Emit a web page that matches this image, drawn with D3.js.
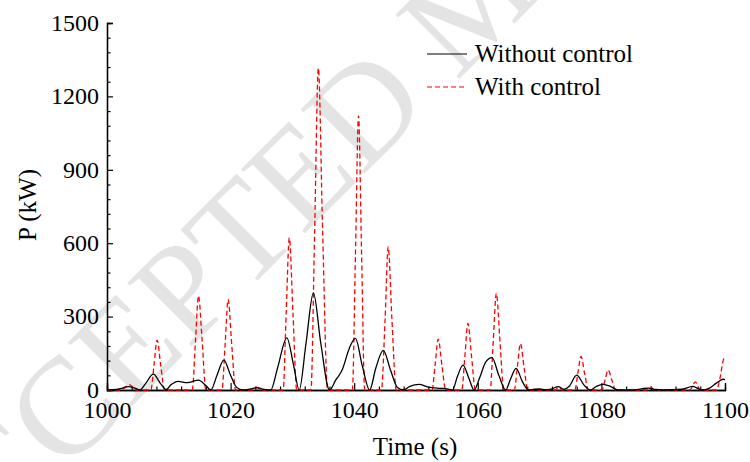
<!DOCTYPE html>
<html>
<head>
<meta charset="utf-8">
<script src="https://cdn.jsdelivr.net/npm/d3@7/dist/d3.min.js"></script>
<style>
  html, body { margin: 0; padding: 0; background: #fff; }
  svg { display: block; }
  svg text { font-family: "Liberation Serif", "Times New Roman", Times, serif !important; fill: #000; }
</style>
</head>
<body>
<svg id="chart" width="750" height="462"></svg>
<script>
// Time (s) and power (kW) samples for each run
const timeWithout = [1000,1001.5,1002.5,1003.5,1004.5,1005.3,1006.2,1007.5,1008.7,1009.6,1010.3,1011.5,1013,1014.8,1016,1016.8,1017.8,1018.9,1020,1021,1022,1023.5,1024.3,1025.2,1026.5,1027.6,1029.1,1030.2,1031.1,1032.2,1033.4,1034.6,1036,1037,1038.1,1039.2,1040.2,1041.3,1042.5,1043.5,1044.7,1045.9,1047,1048,1049,1050.5,1052,1054,1055,1055.9,1056.7,1057.6,1058.6,1059.4,1060.3,1061.3,1062.3,1063.4,1064.5,1065.3,1066.2,1067.2,1068.2,1069.2,1070,1071,1072,1073,1074,1074.8,1076,1077.2,1078.2,1079.2,1080.3,1081.5,1082.7,1085,1086.5,1087.6,1088.7,1090,1093,1094.8,1096.2,1097.5,1098.6,1099.7,1100];
const powerWithout = [0,2,8,14,8,0,25,65,25,2,20,35,30,40,18,0,60,122,60,10,0,6,10,4,0,90,213,100,0,190,397,190,0,40,85,170,211,100,0,90,162,80,10,0,15,23,12,7,5,0,55,102,45,0,50,115,132,60,0,45,88,35,0,3,4,1,5,14,3,15,61,20,0,15,23,14,0,0,5,8,2,0,3,15,0,8,28,44,42];

const timeWith = [1000,1002.3,1003.6,1004.8,1007.1,1007.6,1008.1,1008.7,1009.3,1013.8,1014.3,1014.8,1015.4,1016,1018.6,1019.1,1019.6,1020.2,1020.8,1023.5,1024.2,1024.9,1028.5,1029,1029.5,1030.1,1030.7,1033,1033.6,1034.2,1034.9,1035.7,1039.7,1040.2,1040.7,1041.2,1041.7,1044.4,1045,1045.5,1046.1,1046.8,1052.6,1053.1,1053.6,1054.2,1054.8,1057.4,1057.9,1058.4,1059,1059.6,1062,1062.5,1063,1063.6,1064.2,1065.9,1066.4,1066.9,1067.5,1068.1,1072.5,1073.1,1073.7,1075.7,1076.2,1076.7,1077.3,1077.9,1080.1,1080.6,1081.1,1081.7,1082.3,1087.3,1088,1088.6,1094.3,1095.2,1096,1098.6,1099.2,1099.7,1100];
const powerWith = [0,0,22,0,0,100,204,100,0,0,190,385,200,0,0,180,370,180,0,0,12,0,0,320,622,310,0,0,650,1315,640,0,0,550,1120,550,0,0,290,585,290,0,0,105,208,100,0,0,135,272,135,0,0,200,395,195,0,0,95,190,90,0,0,12,0,0,70,137,65,0,0,42,82,40,0,0,12,0,0,33,0,0,50,120,140];

const xTicks = [1000, 1020, 1040, 1060, 1080, 1100];
const yTicks = [0, 300, 600, 900, 1200, 1500];
const seriesNames = ["Without control", "With control"];

const svg = d3.select("#chart");
const plotLeft = 107, plotRight = 725, plotTop = 23, plotBottom = 390;
const fontSize = 25, tickFontSize = 24;

// Faint diagonal stamp behind the plot
svg.append("text")
  .attr("transform", "translate(-72,610) rotate(-45)")
  .attr("font-size", 138)
  .style("fill", "#e4e4e4")
  .text("ACCEPTED MANUSCRIPT");

const x = d3.scaleLinear().domain([1000, 1100]).range([plotLeft, plotRight]);
const y = d3.scaleLinear().domain([0, 1500]).range([plotBottom, plotTop]);

// Axes with inward ticks (major labelled, minor unlabelled)
const xMinor = d3.range(1000, 1100.1, 4).filter(v => !xTicks.includes(v));
const yMinor = d3.range(0, 1500.1, 60).filter(v => !yTicks.includes(v));

const gx = svg.append("g").attr("transform", `translate(0,${plotBottom})`);
gx.call(d3.axisBottom(x).tickValues(xTicks).tickSize(-7).tickPadding(11).tickFormat(d3.format("d")));
gx.append("g").call(d3.axisBottom(x).tickValues(xMinor).tickSize(-3.5).tickFormat(""));
const gy = svg.append("g").attr("transform", `translate(${plotLeft},0)`);
gy.call(d3.axisLeft(y).tickValues(yTicks).tickSize(-6).tickPadding(8).tickFormat(d3.format("d")));
gy.append("g").call(d3.axisLeft(y).tickValues(yMinor).tickSize(-3.5).tickFormat(""));

svg.selectAll(".domain").attr("stroke", "#000").attr("stroke-width", 1.3);
svg.selectAll(".tick line").attr("stroke", "#000").attr("stroke-width", 1.2);
svg.selectAll(".tick text").attr("font-size", tickFontSize).style("fill", "#000");
gx.selectAll(".tick text").attr("dy", "0.71em");
gy.selectAll(".tick text").attr("dy", "0.30em");

// Curves
const lineGen = d3.line().x(d => x(d[0])).y(d => y(d[1])).curve(d3.curveMonotoneX);
const dataWithout = timeWithout.map((t, i) => [t, powerWithout[i]]);
const dataWith = timeWith.map((t, i) => [t, powerWith[i]]);

svg.append("path").datum(dataWith)
  .attr("d", lineGen).attr("fill", "none")
  .attr("stroke", "#ff0000").attr("stroke-width", 1.3)
  .attr("stroke-dasharray", "5,3");
svg.append("path").datum(dataWithout)
  .attr("d", lineGen).attr("fill", "none")
  .attr("stroke", "#000").attr("stroke-width", 1.3);

// Axis titles
svg.append("text").attr("x", 415).attr("y", 455).attr("text-anchor", "middle")
  .attr("font-size", fontSize).text("Time (s)");
svg.append("text").attr("transform", "translate(36,205) rotate(-90)")
  .attr("text-anchor", "middle").attr("font-size", fontSize).text("P (kW)");

// Legend
const legend = svg.append("g");
[0, 1].forEach(i => {
  const ly = 54 + i * 33;
  legend.append("line").attr("x1", 427).attr("x2", 467).attr("y1", ly).attr("y2", ly)
    .attr("stroke", i === 0 ? "#000" : "#ff0000").attr("stroke-width", 1.2)
    .attr("stroke-dasharray", i === 0 ? null : "5,3");
  legend.append("text").attr("x", 475).attr("y", ly + 8).attr("font-size", fontSize)
    .text(seriesNames[i]);
});
</script>
</body>
</html>
